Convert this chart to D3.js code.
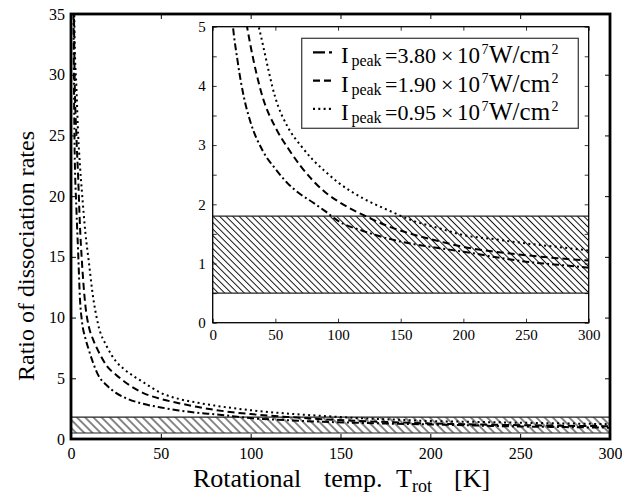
<!DOCTYPE html>
<html>

<head>
    <title>dissociation ratio</title>
    <meta charset="utf-8">
    <style>
    body {
        margin: 0;
        background: white;
    }

    svg.chart {
        font-family: "Liberation Serif", "DejaVu Serif", serif;
    }

    g.axis path.domain {
        stroke-opacity: 0;
    }

    g.axis line {
        stroke: black;
    }

    g.axis text {
        fill: black;
    }

    path.curve {
        fill: none;
        stroke: black;
    }
    </style>
</head>

<body>
    <svg id="chart" class="chart" width="622" height="497"></svg>
    <script src="https://d3js.org/d3.v7.min.js"></script>
    <script>
    // rotational temperature (K)
    let temps = [1, 2, 3, 4, 5, 6, 8, 10, 12, 15, 20, 25, 30, 40, 50, 60, 70, 80, 90, 100, 120, 140, 160, 180, 200, 225, 250, 275, 300];
    // ratio of dissociation rates, one list per peak intensity
    let ratio380 = [45, 24, 19, 15.3, 11.5, 9.8, 8.3, 7.3, 6.4, 5.3, 4.4, 3.8, 3.4, 2.9, 2.6, 2.35, 2.17, 2.03, 1.88, 1.72, 1.55, 1.42, 1.33, 1.26, 1.2, 1.11, 1.03, 0.98, 0.93];
    let ratio190 = [50, 30, 25, 21.5, 17.5, 14.8, 11, 9.2, 8.3, 7.3, 6.0, 5.3, 4.7, 3.8, 3.3, 2.95, 2.65, 2.4, 2.2, 2.05, 1.82, 1.63, 1.49, 1.38, 1.28, 1.2, 1.14, 1.09, 1.05];
    let ratio095 = [55, 33, 29, 25, 22.5, 20.5, 17, 14.5, 12, 9.5, 7.6, 6.4, 5.7, 4.7, 3.8, 3.3, 3.0, 2.75, 2.55, 2.37, 2.1, 1.9, 1.72, 1.6, 1.48, 1.41, 1.34, 1.28, 1.22];
    // experimental range (hatched band)
    let bandLow = 0.5;
    let bandHigh = 1.8;
    let legendValues = ['3.80', '1.90', '0.95'];
    let mainXTicks = [0, 50, 100, 150, 200, 250, 300];
    let mainYTicks = [0, 5, 10, 15, 20, 25, 30, 35];
    let insetXTicks = [0, 50, 100, 150, 200, 250, 300];
    let insetYTicks = [0, 0.5, 1, 1.5, 2, 2.5, 3, 3.5, 4, 4.5, 5];

    let series = [
        { values: ratio380, dash: '7,3,2,3', key: '12,4,3,10', label: legendValues[0] },
        { values: ratio190, dash: '7,4', key: '7,4', label: legendValues[1] },
        { values: ratio095, dash: '2,3.3', key: '2,3.3', label: legendValues[2] },
    ];

    let svg = d3.select('svg#chart');

    let defs = svg.append('defs');

    function hatch(id, w) {
        let p = defs.append('pattern')
            .attr('id', id)
            .attr('patternUnits', 'userSpaceOnUse')
            .attr('width', w)
            .attr('height', w)
            .attr('patternTransform', 'rotate(-45)');
        p.append('line')
            .attr('x1', w / 2).attr('x2', w / 2)
            .attr('y1', -1).attr('y2', w + 1)
            .attr('stroke', '#111')
            .attr('stroke-width', 1);
    }
    hatch('hatch_main', 5.8);
    hatch('hatch_inset', 4.6);

    function panel(opts) {
        let x = d3.scaleLinear().domain([0, 300]).range([opts.left, opts.right]);
        let y = d3.scaleLinear().domain([0, opts.ymax]).range([opts.bottom, opts.top]);
        let g = svg.append('g');

        defs.append('clipPath').attr('id', opts.id + '_clip')
            .append('rect')
            .attr('x', opts.left).attr('y', opts.top)
            .attr('width', opts.right - opts.left)
            .attr('height', opts.bottom - opts.top);

        g.append('rect')
            .attr('x', opts.left).attr('y', opts.top)
            .attr('width', opts.right - opts.left)
            .attr('height', opts.bottom - opts.top)
            .attr('fill', 'white');

        // hatched band
        g.append('rect')
            .attr('x', x(0)).attr('y', y(bandHigh))
            .attr('width', x(300) - x(0))
            .attr('height', y(bandLow) - y(bandHigh))
            .attr('fill', 'url(#' + opts.hatch + ')');
        [bandLow, bandHigh].forEach(function(v) {
            g.append('line')
                .attr('x1', x(0)).attr('x2', x(300))
                .attr('y1', y(v)).attr('y2', y(v))
                .attr('stroke', '#222')
                .attr('stroke-width', 1.1);
        });

        let line = d3.line()
            .curve(d3.curveMonotoneX)
            .x(function(d) { return x(d[0]); })
            .y(function(d) { return y(d[1]); });

        let curves = g.append('g').attr('clip-path', 'url(#' + opts.id + '_clip)');
        series.forEach(function(s) {
            curves.append('path')
                .classed('curve', true)
                .attr('stroke-width', opts.lw)
                .attr('stroke-dasharray', s.dash)
                .attr('d', line(d3.zip(temps, s.values)));
        });

        let fmt = opts.yFormat || d3.format('d');
        g.append('g').classed('axis', true)
            .attr('transform', 'translate(0,' + opts.bottom + ')')
            .style('font-size', opts.fs + 'px')
            .style('font-family', 'Liberation Serif')
            .call(d3.axisBottom(x).tickValues(opts.xticks).tickSize(-opts.tick).tickPadding(opts.xpad));
        g.append('g').classed('axis', true)
            .attr('transform', 'translate(0,' + opts.top + ')')
            .call(d3.axisTop(x).tickValues(opts.xticks).tickSize(-opts.tick).tickFormat(''));
        g.append('g').classed('axis', true)
            .attr('transform', 'translate(' + opts.left + ',0)')
            .style('font-size', opts.fs + 'px')
            .style('font-family', 'Liberation Serif')
            .call(d3.axisLeft(y).tickValues(opts.yticks).tickSize(-opts.tick).tickPadding(opts.ypad).tickFormat(fmt));
        g.append('g').classed('axis', true)
            .attr('transform', 'translate(' + opts.right + ',0)')
            .call(d3.axisRight(y).tickValues(opts.yticks).tickSize(-opts.tick).tickFormat(''));

        g.selectAll('g.axis line').attr('stroke-width', opts.tickw);

        g.append('rect')
            .attr('x', opts.left).attr('y', opts.top)
            .attr('width', opts.right - opts.left)
            .attr('height', opts.bottom - opts.top)
            .attr('fill', 'none')
            .attr('stroke', 'black')
            .attr('stroke-width', opts.frame);

        return g;
    }

    // main plot
    panel({
        id: 'main', left: 71, right: 610, top: 14, bottom: 439, ymax: 35,
        xticks: mainXTicks, yticks: mainYTicks, tick: 5, tickw: 1,
        hatch: 'hatch_main', lw: 2, frame: 2.8, fs: 16, xpad: 9, ypad: 6,
    });

    // inset
    panel({
        id: 'inset', left: 212.7, right: 588.7, top: 26.7, bottom: 322.7, ymax: 5,
        xticks: insetXTicks, yticks: insetYTicks, tick: 4, tickw: 0.8,
        hatch: 'hatch_inset', lw: 2, frame: 1.3, fs: 15, xpad: 7, ypad: 7,
        yFormat: function(d) { return Number.isInteger(d) ? d : ''; },
    });

    // legend
    let legend = svg.append('g');
    legend.append('rect')
        .attr('x', 301.7).attr('y', 38.3)
        .attr('width', 276.6).attr('height', 90)
        .attr('fill', 'white')
        .attr('stroke', '#444')
        .attr('stroke-width', 1.3);

    series.forEach(function(s, i) {
        let base = 63.3 + i * 28.3;
        legend.append('line')
            .attr('x1', 313).attr('x2', 334)
            .attr('y1', base - 11).attr('y2', base - 11)
            .attr('stroke', 'black')
            .attr('stroke-width', 2.2)
            .attr('stroke-dasharray', s.key);
        let t = legend.append('g').style('font-size', '23px');
        t.append('text').attr('x', 341).attr('y', base).text('I');
        t.append('text').attr('x', 351.5).attr('y', base + 3)
            .style('font-size', '16px').attr('textLength', 30).text('peak');
        t.append('text').attr('x', 385).attr('y', base)
            .style('font-size', '22px').text('=' + s.label);
        t.append('text').attr('x', 441).attr('y', base)
            .style('font-size', '22px').text('\u00d7');
        t.append('text').attr('x', 457).attr('y', base).text('10');
        t.append('text').attr('x', 481.5).attr('y', base - 9)
            .style('font-size', '14px').text('7');
        t.append('text').attr('x', 489).attr('y', base)
            .style('font-size', '25px').text('W/cm');
        t.append('text').attr('x', 551.5).attr('y', base - 9)
            .style('font-size', '14px').text('2');
    });

    // axis titles
    svg.append('text')
        .attr('transform', 'translate(34,256) rotate(-90)')
        .attr('text-anchor', 'middle')
        .style('font-size', '24px')
        .text('Ratio of dissociation rates');

    let xt = svg.append('text')
        .attr('x', 193).attr('y', 487)
        .style('font-size', '26px');
    xt.append('tspan').text('Rotational');
    xt.append('tspan').attr('x', 324).text('temp.');
    xt.append('tspan').attr('x', 396).text('T');
    xt.append('tspan').attr('dy', 5).style('font-size', '18px').text('rot');
    xt.append('tspan').attr('x', 454).attr('dy', -5).text('[K]');
    </script>
</body>

</html>
